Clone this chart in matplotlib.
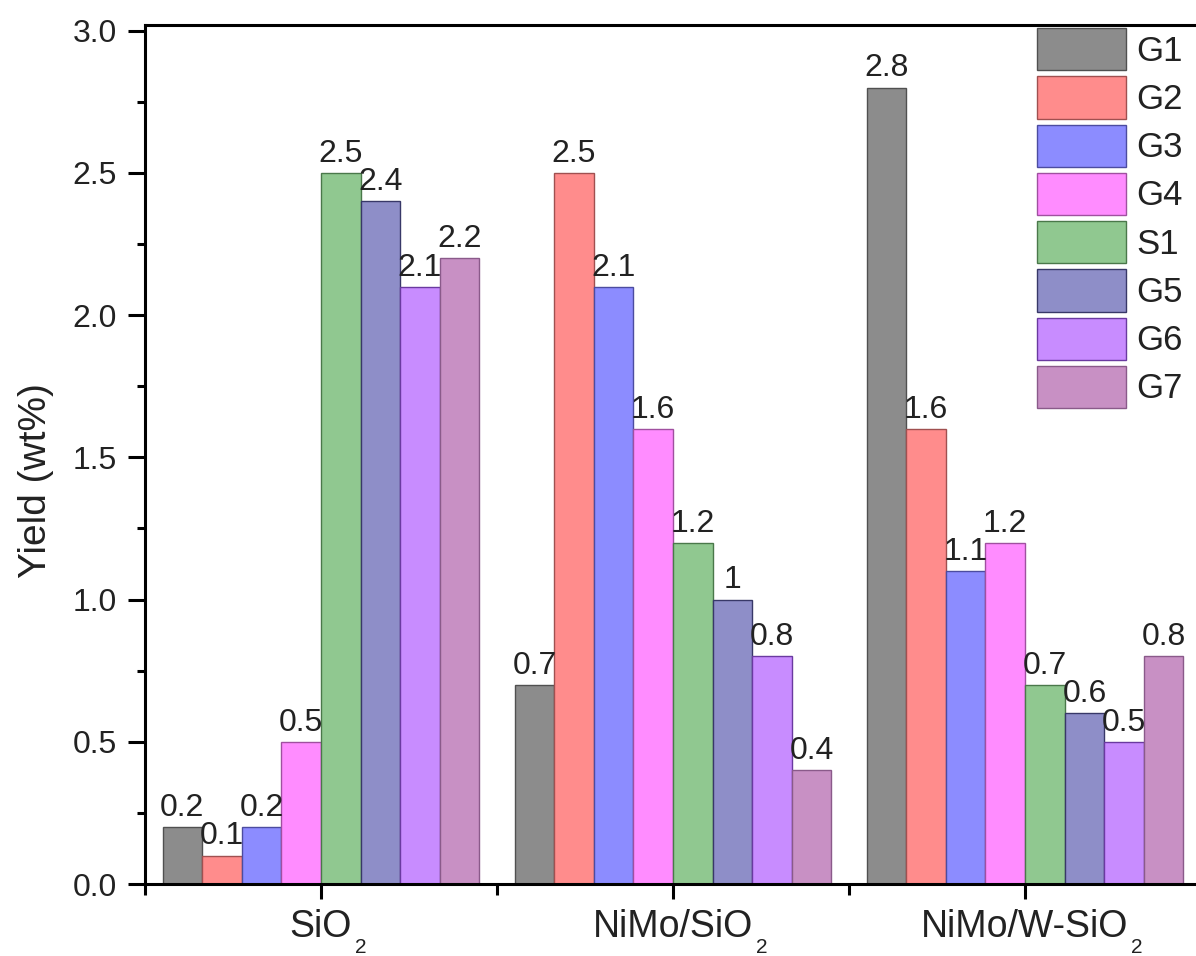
import matplotlib
matplotlib.use("Agg")
import matplotlib.pyplot as plt
import numpy as np

plt.rcParams['font.family'] = ['Liberation Sans', 'DejaVu Sans']

# catalyst names are split into body text and the subscript that follows it
catalyst_names = ['SiO', 'NiMo/SiO', 'NiMo/W-SiO']
catalyst_subs = ['2', '2', '2']
series = ['G1', 'G2', 'G3', 'G4', 'S1', 'G5', 'G6', 'G7']

g1 = [0.2, 0.7, 2.8]
g2 = [0.1, 2.5, 1.6]
g3 = [0.2, 2.1, 1.1]
g4 = [0.5, 1.6, 1.2]
s1 = [2.5, 1.2, 0.7]
g5 = [2.4, 1.0, 0.6]
g6 = [2.1, 0.8, 0.5]
g7 = [2.2, 0.4, 0.8]
values = [g1, g2, g3, g4, s1, g5, g6, g7]

face_colors = ['#8c8c8c', '#ff8c8c', '#8c8cff', '#ff8cff',
               '#90c890', '#8e8ec8', '#c88cff', '#c890c4']
edge_colors = ['#505050', '#a05050', '#4c4ca0', '#a050a0',
               '#4a784a', '#383868', '#6a3aa0', '#8a5a8a']
text_color = '#222222'

fig = plt.figure(figsize=(11.96, 9.56), dpi=100)
ax = fig.add_axes([145 / 1196, 72 / 956, 1056 / 1196, 859 / 956])

x = np.arange(1, len(catalyst_names) + 1)
n = len(series)
width = 0.9 / n
for i, (name, vals) in enumerate(zip(series, values)):
    pos = x - 0.45 + width * (i + 0.5)
    bars = ax.bar(pos, vals, width, color=face_colors[i],
                  edgecolor=edge_colors[i], linewidth=1.0, label=name)
    ax.bar_label(bars, labels=[f'{v:g}' for v in vals], padding=3,
                 fontsize=23, color=text_color)

ax.set_xlim(0.5, 3.5)
ax.set_ylim(0, 3.02)
ax.set_xticks(x)
ax.set_xticklabels(catalyst_names, fontsize=27, color=text_color)
ax.set_xticks([0.5, 1.5, 2.5, 3.5], minor=True)
ax.set_yticks(np.arange(0, 3.01, 0.5))
ax.set_yticklabels([f'{v:.1f}' for v in np.arange(0, 3.01, 0.5)],
                   fontsize=23, color=text_color)
ax.set_yticks(np.arange(0.25, 3.0, 0.5), minor=True)
ax.set_ylabel('Yield (wt%)', fontsize=28, color=text_color)
ax.yaxis.set_label_coords(-0.086, 0.470)

for side in ['left', 'bottom', 'top']:
    ax.spines[side].set_linewidth(2.2)
ax.spines['right'].set_visible(False)
ax.tick_params(axis='y', which='major', direction='out', length=12, width=2.2, pad=8)
ax.tick_params(axis='y', which='minor', direction='out', length=6, width=2.2)
ax.tick_params(axis='x', which='major', direction='out', length=11, width=2.2, pad=7)
ax.tick_params(axis='x', which='minor', direction='out', length=8, width=2.2)

# small lowered subscripts after each category label
fig.canvas.draw()
for lbl, sub in zip(ax.get_xticklabels(), catalyst_subs):
    ax.annotate(sub, xy=(1, 0), xycoords=lbl, xytext=(2, 5),
                textcoords='offset points', ha='left', va='top',
                fontsize=15, color=text_color)

ax.legend(loc='upper left', bbox_to_anchor=(1037 / 1196, 928 / 956),
          bbox_transform=fig.transFigure, frameon=False, fontsize=25,
          labelcolor=text_color,
          handlelength=2.55, handleheight=1.5, labelspacing=0.17,
          handletextpad=0.3, borderaxespad=0, borderpad=0)

fig.savefig('out.png', dpi=100)
